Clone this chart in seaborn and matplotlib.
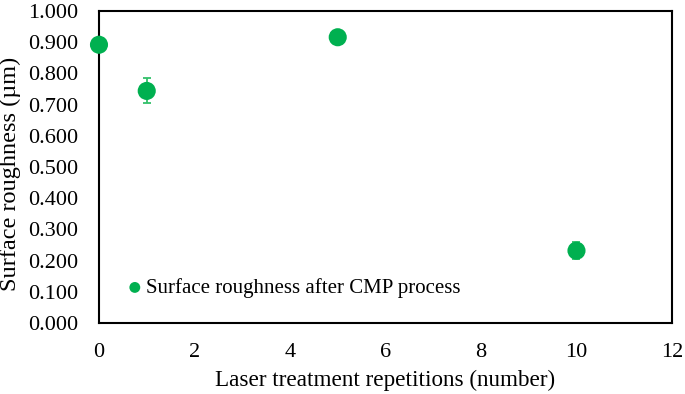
import matplotlib
matplotlib.use("Agg")
import matplotlib.pyplot as plt
import pandas as pd
import seaborn as sns

repetitions = [0, 1, 5, 10]
roughness = [0.892, 0.744, 0.916, 0.232]
roughness_err = [0.0, 0.040, 0.0, 0.028]
series_label = "Surface roughness after CMP process"
y_ticks = [0.0, 0.1, 0.2, 0.3, 0.4, 0.5, 0.6, 0.7, 0.8, 0.9, 1.0]
x_ticks = [0, 2, 4, 6, 8, 10, 12]

GREEN = "#00b050"

sns.set_theme(style="white")
plt.rcParams["font.family"] = ["Liberation Serif", "DejaVu Serif"]
plt.rcParams["text.color"] = "black"
plt.rcParams["axes.labelcolor"] = "black"

df = pd.DataFrame({"rep": repetitions, "ra": roughness, "err": roughness_err})

fig = plt.figure(figsize=(6.85, 3.94), dpi=100)
ax = fig.add_axes([0.1445, 0.180, 0.8365, 0.792])

ax.errorbar(df["rep"], df["ra"], yerr=df["err"], fmt="none",
            ecolor="#33c06a", elinewidth=1.3, capsize=3.2, capthick=1.3,
            zorder=2, clip_on=False)
sns.scatterplot(data=df, x="rep", y="ra", s=170, color=GREEN,
                edgecolor="none", label=series_label, ax=ax, zorder=3,
                clip_on=False)

ax.set_xlim(0, 12)
ax.set_ylim(0, 1.0)
ax.set_xticks(x_ticks)
ax.set_yticks(y_ticks)
ax.set_yticklabels([f"{v:.3f}" for v in y_ticks])
ax.tick_params(axis="both", length=0, labelsize=16, colors="black")
ax.tick_params(axis="x", pad=14)
ax.tick_params(axis="y", pad=15)
ax.set_xlabel("Laser treatment repetitions (number)", fontsize=16.7, labelpad=6)
ax.set_ylabel("Surface roughness (µm)", fontsize=17.5)
ax.yaxis.set_label_coords(-0.136, 0.478)
for sp in ax.spines.values():
    sp.set_color("black")
    sp.set_linewidth(1.5)

leg = ax.legend(loc="lower left", bbox_to_anchor=(0.028, 0.054), frameon=False,
                fontsize=15, handletextpad=0.0, markerscale=0.6,
                borderaxespad=0, handlelength=1.1)

fig.savefig("out.png", dpi=100)
